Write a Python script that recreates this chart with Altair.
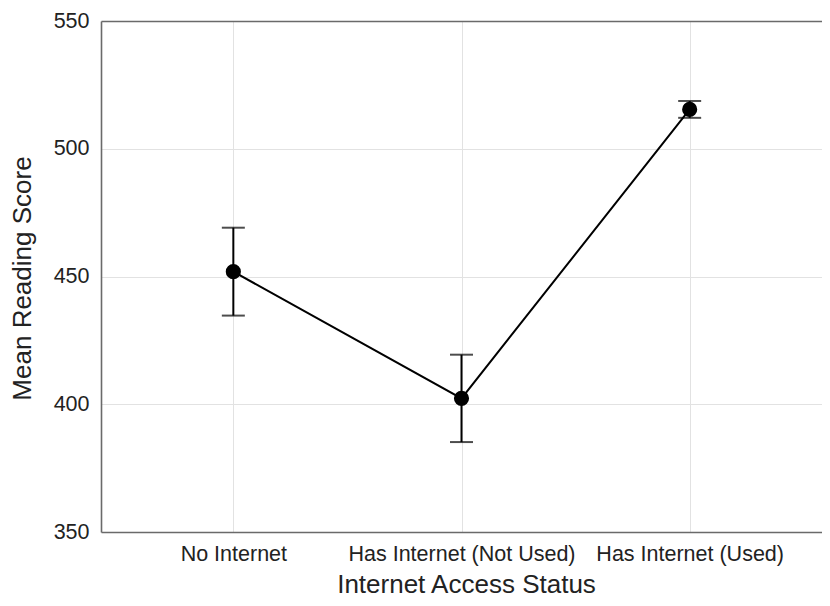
import altair as alt
import pandas as pd

categories = ["No Internet", "Has Internet (Not Used)", "Has Internet (Used)"]
mean_score = [451.9, 402.3, 515.4]
lower_ci = [434.7, 385.2, 512.1]
upper_ci = [469.1, 419.4, 518.7]
y_ticks = [350, 400, 450, 500, 550]

df = pd.DataFrame({
    "status": categories,
    "mean": mean_score,
    "lower": lower_ci,
    "upper": upper_ci,
})

FONT = "Liberation Sans"
GRID = "#e2e2e2"
BORDER = "#6a6a6a"
W, H = 721, 511
EDGE = "datum.value == 350 || datum.value == 550"

xscale = alt.Scale(type="point", padding=0.58)
yscale = alt.Scale(domain=[350, 550], nice=False, zero=False)

x_main = alt.X(
    "status:N", sort=categories, scale=xscale,
    axis=alt.Axis(
        title="Internet Access Status", orient="bottom",
        grid=True, gridColor=GRID, gridWidth=1,
        ticks=False, domain=False,
        labelAngle=0, labelFont=FONT, labelFontSize=21.5, labelColor="#222",
        labelBaseline="alphabetic", labelPadding=28, labelLimit=0,
        titleFont=FONT, titleFontSize=26, titleFontWeight="normal", titleColor="#222",
        titleBaseline="alphabetic", titleY=60, titleX=365, titleAlign="center",
    ),
)
y_main = alt.Y(
    "mean:Q", scale=yscale,
    axis=alt.Axis(
        title="Mean Reading Score", values=y_ticks,
        grid=True,
        gridColor={"condition": {"test": EDGE, "value": BORDER}, "value": GRID},
        gridWidth={"condition": {"test": EDGE, "value": 1.6}, "value": 1},
        ticks=False, domain=True, domainColor=BORDER, domainWidth=1.6,
        labelFont=FONT, labelFontSize=21.5, labelColor="#222", labelPadding=12,
        titleFont=FONT, titleFontSize=26, titleFontWeight="normal", titleColor="#222",
        titleAngle=270, titleAlign="center", titleBaseline="middle",
        titleX=-79, titleY=257,
    ),
)

base = alt.Chart(df)

line = base.mark_line(color="#000", strokeWidth=2).encode(x=x_main, y=y_main)
rules = base.mark_rule(color="#000", strokeWidth=2).encode(
    x=alt.X("status:N", sort=categories, scale=xscale),
    y=alt.Y("lower:Q", scale=yscale),
    y2="upper:Q",
)
caps_lo = base.mark_tick(color="#000", size=23, thickness=2, orient="horizontal").encode(
    x=alt.X("status:N", sort=categories, scale=xscale),
    y=alt.Y("lower:Q", scale=yscale),
)
caps_hi = base.mark_tick(color="#000", size=23, thickness=2, orient="horizontal").encode(
    x=alt.X("status:N", sort=categories, scale=xscale),
    y=alt.Y("upper:Q", scale=yscale),
)
points = base.mark_point(filled=True, color="#000", size=230, opacity=1).encode(
    x=alt.X("status:N", sort=categories, scale=xscale),
    y=alt.Y("mean:Q", scale=yscale),
)

chart = alt.layer(line, rules, caps_lo, caps_hi, points).properties(
    width=W,
    height=H,
    autosize="none",
    padding={"left": 93, "top": 13, "right": 0, "bottom": 66},
    background="white",
).configure_view(strokeWidth=0)

chart.save("out.html", embed_options={"renderer": "svg", "actions": False})
